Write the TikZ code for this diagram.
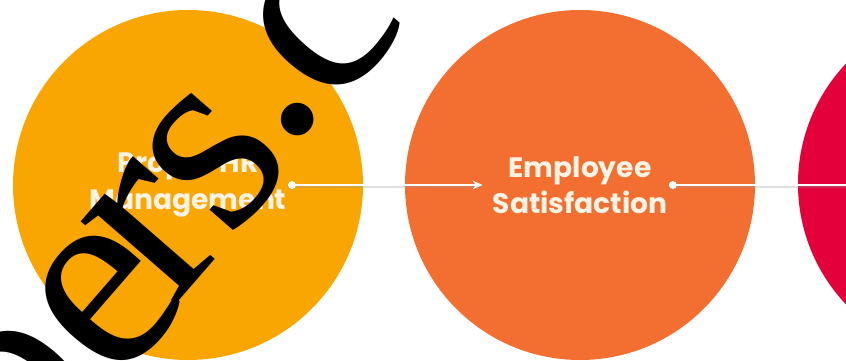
\documentclass[tikz,border=0pt]{standalone}
\usepackage{fontspec}
\usetikzlibrary{arrows.meta}
\newfontfamily\stagefont{Poppins}
\newfontfamily\markfont{Liberation Serif}
\definecolor{amber}{HTML}{F9A602}
\definecolor{tangerine}{HTML}{F26F31}
\definecolor{crimson}{HTML}{E4003A}
\definecolor{cream}{HTML}{FFF3E3}
\tikzset{
	stage/.style={circle, minimum size=8.75cm, inner sep=0pt},
	stagetext/.style={text=cream, font=\stagefont\bfseries\fontsize{20}{26}\selectfont, align=center, inner sep=1pt},
	link/.style={draw=white, line width=1.4pt, {Circle[length=5.5pt]}-{Stealth[length=7pt, width=6pt]}, shorten >=6pt,
		preaction={draw=black!40, line width=2.4pt, opacity=0.3, transform canvas={yshift=-0.7pt}}},
	glyph/.style={font=\markfont\fontsize{195}{195}\selectfont, rotate=49, inner sep=0pt}
}
\begin{document}
\begin{tikzpicture}
		      \useasboundingbox (0,0) rectangle (21.15,9);
		      \clip (0,0) rectangle (21.15,9);
		      \node[stage, fill=amber] (c1) at (4.7, 4.375) {};
		      \node[stage, fill=tangerine] (c2) at (14.5, 4.375) {};
		      \node[stage, fill=crimson] (c3) at (24.325, 4.4) {};
		      \node[stagetext] (t1) at (c1) {Proper HR\\Management};
		      \node[stagetext] (t2) at (c2) {Employee\\Satisfaction};
		      \coordinate (t3) at (23.2, 4.375);
		      \draw[link] (t1) -- (t2);
		      \draw[link] (t2) -- (t3);
		      \node[glyph] (wm-p) at (1.0, -1.4) {p};
		      \node[glyph] (wm-e) at (2.7, 1.5) {e};
		      \node[glyph] (wm-r) at (3.85, 3.2) {r};
		      \node[glyph] (wm-s) at (5.4, 5.0) {s};
		      \node[glyph] (wm-dot) at (7.45, 6.0) {.};
		      \node[glyph] (wm-c) at (8.1, 8.35) {c};
	      \end{tikzpicture}
\end{document}
